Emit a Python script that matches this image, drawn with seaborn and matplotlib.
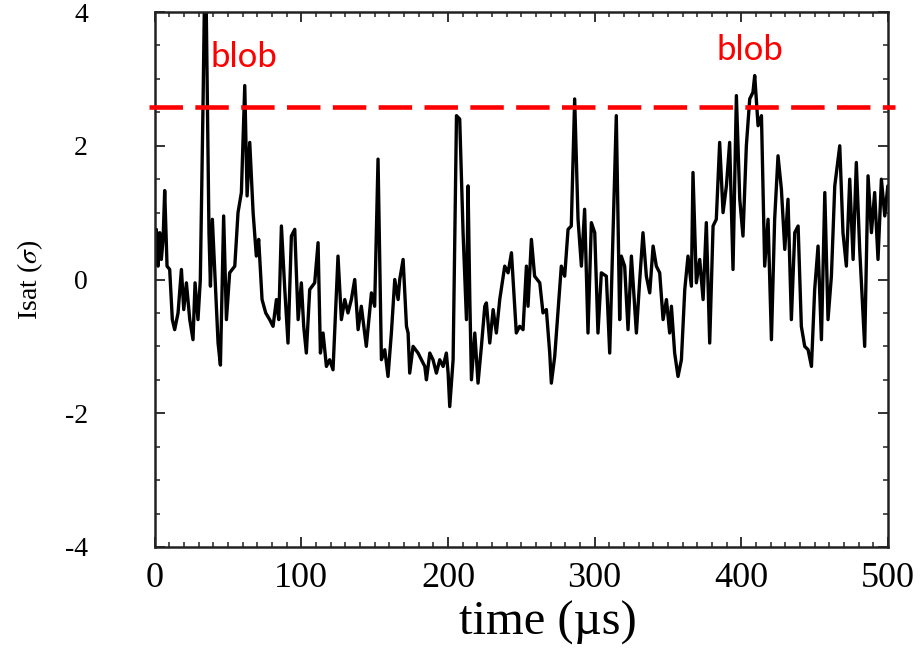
import numpy as np
import pandas as pd
import matplotlib
matplotlib.use("Agg")
import matplotlib.pyplot as plt
from matplotlib.ticker import MultipleLocator
import seaborn as sns

# Isat time trace (time in us, Isat in units of sigma)
time_us = [
    0.0, 1.1, 2.3, 3.4, 4.5, 5.7, 6.8, 8.4, 10.2, 12.0,
    13.6, 15.9, 18.2, 19.8, 21.6, 23.9, 26.1, 27.5, 29.5, 31.1,
    33.0, 34.1, 35.0, 37.0, 38.0, 39.3, 41.4, 43.2, 44.8, 47.0,
    48.9, 51.1, 54.6, 56.8, 59.1, 61.4, 63.0, 64.8, 67.1, 69.3,
    70.9, 73.2, 75.7, 78.4, 80.7, 83.0, 84.6, 86.4, 88.7, 90.9,
    93.2, 95.5, 97.8, 100.0, 101.6, 103.4, 105.7, 109.1, 111.4, 113.0,
    114.8, 117.1, 119.3, 121.6, 125.0, 127.3, 129.6, 131.8, 134.1, 136.4,
    138.7, 140.9, 144.3, 147.8, 150.0, 152.3, 154.6, 156.9, 159.1, 161.4,
    163.7, 166.0, 167.1, 169.4, 171.7, 172.8, 173.9, 176.2, 179.6, 181.9,
    184.2, 185.3, 187.6, 189.8, 192.1, 194.4, 196.7, 198.9, 200.1, 201.2,
    203.5, 205.8, 208.0, 210.3, 212.6, 213.7, 214.9, 216.0, 218.3, 220.5,
    222.8, 225.1, 226.2, 228.5, 230.8, 233.0, 235.3, 238.7, 241.0, 243.3,
    246.6, 248.9, 251.2, 253.5, 254.6, 256.9, 259.1, 262.6, 264.8, 267.1,
    269.4, 270.5, 272.8, 275.1, 277.3, 279.6, 281.9, 284.1, 286.4, 288.7,
    291.0, 293.2, 295.5, 297.8, 300.1, 302.3, 304.6, 308.0, 310.3, 312.6,
    314.8, 317.1, 318.2, 320.5, 322.8, 325.1, 328.5, 330.8, 333.0, 335.3,
    337.6, 339.9, 342.1, 344.4, 346.7, 349.0, 351.2, 352.4, 354.6, 356.9,
    359.2, 361.5, 363.7, 366.0, 367.1, 369.4, 371.7, 374.0, 376.2, 378.5,
    380.8, 383.0, 385.3, 387.6, 389.9, 392.1, 394.4, 396.7, 399.0, 401.2,
    403.5, 405.8, 408.0, 409.2, 411.5, 413.8, 416.0, 418.3, 420.6, 422.8,
    425.1, 427.4, 429.7, 431.9, 434.2, 436.5, 438.8, 441.0, 443.3, 445.6,
    447.9, 450.1, 452.4, 454.7, 457.0, 459.2, 461.5, 463.8, 467.2, 469.4,
    471.7, 474.0, 476.3, 478.5, 480.8, 484.2, 486.5, 488.8, 491.0, 493.3,
    495.6, 497.9, 500.0,
]
isat_sigma = [
    0.5, 0.75, 0.2, 0.7, 0.3, 0.6, 1.33, 0.2, 0.15, -0.6,
    -0.75, -0.5, 0.15, -0.45, -0.05, -0.6, -0.9, -0.05, -0.6, 0.0,
    2.7, 4.5, 4.3, 0.7, -0.1, 0.9, -0.1, -0.95, -1.28, 0.95,
    -0.6, 0.1, 0.2, 1.0, 1.3, 2.9, 1.25, 2.05, 1.0, 0.35,
    0.6, -0.3, -0.5, -0.6, -0.7, -0.3, -0.6, 0.8, -0.15, -0.95,
    0.65, 0.75, -0.6, -0.05, -0.7, -1.1, -0.15, -0.05, 0.55, -1.1,
    -0.8, -1.3, -1.2, -1.35, 0.35, -0.6, -0.3, -0.5, -0.3, 0.0,
    -0.75, -0.4, -1.0, -0.2, -0.4, 1.8, -1.2, -1.05, -1.45, -0.8,
    0.0, -0.3, 0.0, 0.3, -0.7, -0.8, -1.4, -1.0, -1.1, -1.2,
    -1.3, -1.5, -1.1, -1.2, -1.4, -1.2, -1.3, -1.1, -1.4, -1.9,
    -1.2, 2.45, 2.4, 0.7, -0.6, 1.4, -0.3, -1.5, -0.8, -1.55,
    -1.0, -0.4, -0.35, -0.95, -0.45, -0.8, -0.3, 0.2, 0.1, 0.4,
    -0.8, -0.7, -0.75, 0.2, -0.4, 0.6, 0.05, -0.05, -0.5, -0.45,
    -1.1, -1.55, -1.15, -0.45, 0.2, 0.05, 0.75, 0.8, 2.7, 0.9,
    0.2, 1.05, -0.8, 0.85, 0.7, -0.8, 0.1, 0.05, -1.1, 0.7,
    2.45, -0.6, 0.35, 0.2, -0.75, 0.35, -0.8, 0.0, 0.7, 0.05,
    -0.2, 0.5, 0.2, 0.1, -0.6, -0.3, -0.8, -0.4, -1.1, -1.45,
    -1.2, -0.15, 0.35, -0.1, 1.6, -0.05, 0.3, -0.3, 0.85, -0.95,
    0.8, 0.9, 2.05, 1.0, 1.4, 2.05, 0.15, 2.75, 1.2, 0.65,
    2.0, 2.7, 2.8, 3.05, 2.3, 2.45, 0.2, 0.9, -0.9, 0.9,
    1.85, 1.35, 0.45, 1.2, -0.6, 0.7, 0.8, -0.7, -1.0, -1.05,
    -1.3, -0.15, 0.5, -0.9, 1.3, -0.6, 0.05, 1.4, 2.0, 0.7,
    0.2, 1.5, 0.3, 1.75, 0.45, -1.0, 1.55, 0.7, 1.3, 0.3,
    1.5, 0.95, 1.4,
]
threshold = 2.58
blob_labels = ["blob", "blob"]
blob_t = [61, 406]
blob_y = [3.33, 3.43]
x_ticks = [0, 100, 200, 300, 400, 500]
y_ticks = [-4, -2, 0, 2, 4]

df = pd.DataFrame({"time": time_us, "isat": isat_sigma})

sns.set_style("ticks")
plt.rcParams["font.family"] = ["Liberation Serif", "DejaVu Serif"]
plt.rcParams["mathtext.fontset"] = "stix"
plt.rcParams["axes.unicode_minus"] = False
plt.rcParams["text.color"] = "black"
plt.rcParams["axes.labelcolor"] = "black"
plt.rcParams["xtick.labelcolor"] = "black"
plt.rcParams["ytick.labelcolor"] = "black"

fig = plt.figure(figsize=(9.21, 6.5), dpi=100)
ax = fig.add_axes([0.168, 0.1585, 0.796, 0.823])

sns.lineplot(data=df, x="time", y="isat", ax=ax, color="black", lw=2.4, sort=False)

ax.axhline(threshold, xmin=-0.008, xmax=1.01, color="#ff0000", lw=3.3,
           dashes=(7.3, 2.7), clip_on=False, zorder=5)

for lab, tx, ty in zip(blob_labels, blob_t, blob_y):
    ax.text(tx, ty, lab, color="#ff0000", fontsize=25, family="Lato",
            ha="center", va="center")

ax.set_xlim(0, 500)
ax.set_ylim(-4, 4)
ax.set_xticks(x_ticks)
ax.set_yticks(y_ticks)
ax.xaxis.set_minor_locator(MultipleLocator(10))
ax.yaxis.set_minor_locator(MultipleLocator(0.5))
ax.tick_params(which="both", direction="in", top=True, right=True, color="#222222")
ax.tick_params(which="major", length=7, width=1.3)
ax.tick_params(which="minor", length=3.5, width=1.1)
ax.tick_params(axis="x", labelsize=26, pad=11)
ax.tick_params(axis="y", labelsize=20, pad=48)
for s in ax.spines.values():
    s.set_linewidth(1.8)
    s.set_color("#222222")

ax.set_xlabel("time (\u00b5s)", fontsize=35)
ax.xaxis.set_label_coords(0.536, -0.1)
ax.set_ylabel("Isat ($\\sigma$)", fontsize=20)
ax.yaxis.set_label_coords(-0.15, 0.5)

fig.savefig("out.png", dpi=100)
